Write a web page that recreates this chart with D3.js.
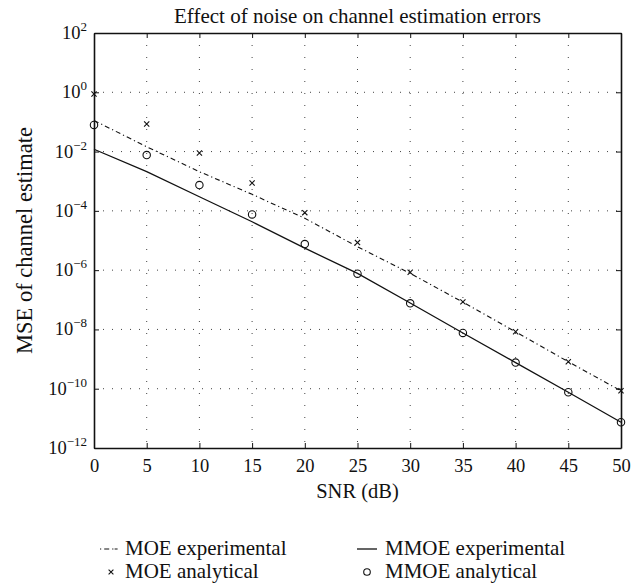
<!DOCTYPE html>
<html>
<head>
<meta charset="utf-8">
<script src="https://cdn.jsdelivr.net/npm/d3@7"></script>
<style>
  html, body { margin: 0; padding: 0; background: #fff; }
  svg { display: block; }
  text { font-family: "Liberation Serif", "Times New Roman", serif; fill: #111; }
</style>
</head>
<body>
<svg id="chart" width="642" height="583"></svg>
<script>
// ---- data ----
const snr = [0, 5, 10, 15, 20, 25, 30, 35, 40, 45, 50];
const moeExperimental = [0.112, 0.0145, 2.1e-3, 3.6e-4, 5.6e-5, 6.2e-6, 7.8e-7, 8.3e-8, 8.3e-9, 8.1e-10, 8.5e-11];
const moeAnalytical   = [0.88, 0.085, 8.9e-3, 8.7e-4, 8.7e-5, 8.5e-6, 8.5e-7, 8.5e-8, 8.3e-9, 8.1e-10, 8.5e-11];
const mmoeExperimental = [0.012, 2.1e-3, 3.0e-4, 4.3e-5, 5.5e-6, 7.8e-7, 7.8e-8, 7.6e-9, 7.6e-10, 7.6e-11, 7.4e-12];
const mmoeAnalytical   = [0.079, 7.6e-3, 7.4e-4, 7.6e-5, 7.6e-6, 7.6e-7, 7.6e-8, 7.6e-9, 7.6e-10, 7.6e-11, 7.4e-12];
const yTickValues = [1e2, 1e0, 1e-2, 1e-4, 1e-6, 1e-8, 1e-10, 1e-12];
const yTickExponents = ["2", "0", "\u22122", "\u22124", "\u22126", "\u22128", "\u221210", "\u221212"];
const title = "Effect of noise on channel estimation errors";
const xLabel = "SNR (dB)";
const yLabel = "MSE of channel estimate";
const legendLabels = ["MOE experimental", "MMOE experimental", "MOE analytical", "MMOE analytical"];

// ---- layout ----
const L = 94, R = 621, T = 33, B = 448;
const svg = d3.select("#chart");
const x = d3.scaleLinear().domain([0, 50]).range([L, R]);
const y = d3.scaleLog().domain([1e-12, 1e2]).range([B, T]);

// grid
const grid = svg.append("g");
grid.selectAll("line.gx").data(snr.slice(1, -1)).join("line")
  .attr("x1", d => x(d)).attr("x2", d => x(d)).attr("y1", T).attr("y2", B)
  .attr("stroke", "#444").attr("stroke-width", 1).attr("stroke-dasharray", "1,11");
grid.selectAll("line.gy").data(yTickValues.slice(1, -1)).join("line")
  .attr("y1", d => y(d)).attr("y2", d => y(d)).attr("x1", L).attr("x2", R)
  .attr("stroke", "#444").attr("stroke-width", 1).attr("stroke-dasharray", "1,8");

// axes
function styleAxis(g) {
  g.attr("font-family", null);
  g.select(".domain").attr("stroke", "#111").attr("stroke-width", 1.6);
  g.selectAll(".tick line").attr("stroke", "#111").attr("stroke-width", 1);
  g.selectAll("text").style("font-family", "'Liberation Serif', serif").style("font-size", "18.5px").attr("fill", "#111");
}
svg.append("g").attr("transform", `translate(0,${B})`)
  .call(d3.axisBottom(x).tickValues(snr).tickSize(-5).tickSizeOuter(0).tickPadding(11).tickFormat(d3.format("d")))
  .call(styleAxis);
svg.append("g").attr("transform", `translate(0,${T})`)
  .call(d3.axisTop(x).tickValues(snr).tickSize(-5).tickSizeOuter(0).tickFormat(""))
  .call(styleAxis);
svg.append("g").attr("transform", `translate(${L},0)`)
  .call(d3.axisLeft(y).tickValues(yTickValues).tickSize(-5).tickSizeOuter(0).tickFormat(""))
  .call(styleAxis);
svg.append("g").attr("transform", `translate(${R},0)`)
  .call(d3.axisRight(y).tickValues(yTickValues).tickSize(-5).tickSizeOuter(0).tickFormat(""))
  .call(styleAxis);

// y tick labels with superscripts
const yl = svg.append("g").selectAll("text").data(yTickValues).join("text")
  .attr("x", L - 7).attr("y", d => y(d) + 6).attr("text-anchor", "end")
  .style("font-size", "18.5px");
yl.append("tspan").text("10");
yl.append("tspan").attr("dy", -8).style("font-size", "13px").text((d, i) => yTickExponents[i]);

// lines
const line = d3.line().x((d, i) => x(snr[i])).y(d => y(d));
svg.append("path").datum(moeExperimental).attr("d", line)
  .attr("fill", "none").attr("stroke", "#111").attr("stroke-width", 1.1)
  .attr("stroke-dasharray", "5,3,1.2,3");
svg.append("path").datum(mmoeExperimental).attr("d", line)
  .attr("fill", "none").attr("stroke", "#111").attr("stroke-width", 1.3);

// markers
const cs = 2.6;
svg.append("g").selectAll("path").data(moeAnalytical).join("path")
  .attr("d", (d, i) => {
    const cx = x(snr[i]), cy = y(d);
    return `M${cx-cs},${cy-cs}L${cx+cs},${cy+cs}M${cx-cs},${cy+cs}L${cx+cs},${cy-cs}`;
  })
  .attr("stroke", "#111").attr("stroke-width", 1.1).attr("fill", "none");
svg.append("g").selectAll("circle").data(mmoeAnalytical).join("circle")
  .attr("cx", (d, i) => x(snr[i])).attr("cy", d => y(d)).attr("r", 3.7)
  .attr("fill", "none").attr("stroke", "#111").attr("stroke-width", 1.1);

// titles
svg.append("text").attr("x", (L + R) / 2).attr("y", 23).attr("text-anchor", "middle")
  .style("font-size", "21px").text(title);
svg.append("text").attr("x", (L + R) / 2).attr("y", 498).attr("text-anchor", "middle")
  .style("font-size", "20.5px").text(xLabel);
svg.append("text").attr("transform", `translate(32,${(T + B) / 2}) rotate(-90)`).attr("text-anchor", "middle")
  .style("font-size", "22.5px").text(yLabel);

// legend
const lg = svg.append("g");
const row1 = 555, row2 = 578;
// MOE experimental (dash-dot sample)
lg.append("line").attr("x1", 100).attr("x2", 120).attr("y1", row1 - 6).attr("y2", row1 - 6)
  .attr("stroke", "#111").attr("stroke-width", 1.1).attr("stroke-dasharray", "1.2,3,5,3,1.2");
lg.append("text").attr("x", 125).attr("y", row1).style("font-size", "21px").text(legendLabels[0]);
// MMOE experimental (solid)
lg.append("line").attr("x1", 357).attr("x2", 377).attr("y1", row1 - 6).attr("y2", row1 - 6)
  .attr("stroke", "#111").attr("stroke-width", 1.3);
lg.append("text").attr("x", 385).attr("y", row1).style("font-size", "21px").text(legendLabels[1]);
// MOE analytical (cross)
const lx = 111, ly = row2 - 6, ls = 2.4;
lg.append("path").attr("d", `M${lx-ls},${ly-ls}L${lx+ls},${ly+ls}M${lx-ls},${ly+ls}L${lx+ls},${ly-ls}`)
  .attr("stroke", "#111").attr("stroke-width", 1.1);
lg.append("text").attr("x", 125).attr("y", row2).style("font-size", "21px").text(legendLabels[2]);
// MMOE analytical (circle)
lg.append("circle").attr("cx", 367).attr("cy", row2 - 6).attr("r", 3.3)
  .attr("fill", "none").attr("stroke", "#111").attr("stroke-width", 1.1);
lg.append("text").attr("x", 385).attr("y", row2).style("font-size", "21px").text(legendLabels[3]);
</script>
</body>
</html>
